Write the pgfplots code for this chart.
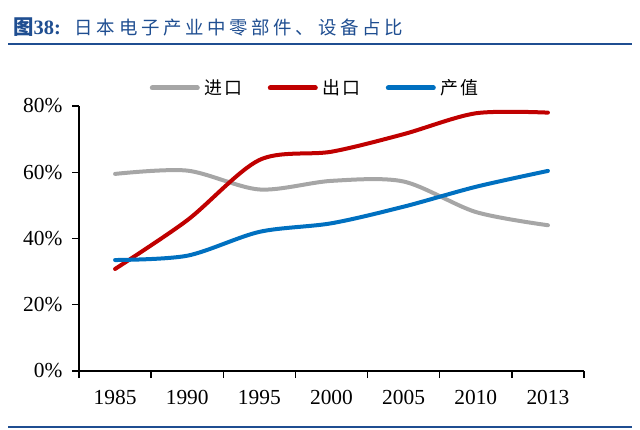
\documentclass[border=0pt]{standalone}
\usepackage{pgfplots}
\pgfplotsset{compat=1.18}
\usepackage{fontspec}
\setmainfont{Liberation Serif}
\newfontfamily\cjk{Noto Sans CJK SC}
\newfontfamily\cjktitle[LetterSpace=20]{Noto Sans CJK SC}
\newfontfamily\cjkleg[LetterSpace=12]{Noto Sans CJK SC}
\definecolor{cgray}{RGB}{166,166,166}
\definecolor{cred}{RGB}{192,0,0}
\definecolor{cblue}{RGB}{0,112,192}
\definecolor{ctitle}{RGB}{31,78,145}
\begin{document}
\begin{tikzpicture}
\useasboundingbox (0,0) rectangle (640bp,430bp);
\draw[ctitle, line width=2bp] (8bp,386bp) -- (632bp,386bp);
\draw[ctitle, line width=2bp] (8bp,2.5bp) -- (632bp,2.5bp);
\node[anchor=west, inner sep=0pt, text=ctitle] at (13bp,403bp)
  {\fontsize{20.5}{24}\selectfont{\cjk\bfseries 图}{\bfseries 38:}\hspace{14bp}{\cjktitle\fontsize{18.5}{20}\selectfont 日本电子产业中零部件、设备占比}};
\begin{axis}[
  at={(79bp,59bp)}, anchor=south west,
  scale only axis, width=505bp, height=265bp,
  xmin=-0.5, xmax=6.5, ymin=0, ymax=80,
  axis x line*=bottom, axis y line*=left,
  axis line style={-, black, line width=1.3bp},
  xtick={-0.5,0.5,...,6.5},
  x tick label as interval,
  xticklabels={1985,1990,1995,2000,2005,2010,2013},
  ytick={0,20,...,80},
  yticklabel={\pgfmathprintnumber{\tick}\%},
  tick align=outside, major tick length=7bp,
  tick style={black, line width=1.3bp},
  ticklabel style={font=\fontsize{21.5}{24}\selectfont},
  xticklabel style={yshift=-9bp},
  yticklabel style={xshift=-6bp},
  /pgf/number format/assume math mode=true,
  clip=false,
  legend columns=3,
  legend cell align=left,
  legend style={draw=none, fill=none, at={(0.466,1.068)}, anchor=center,
    font=\cjkleg\fontsize{18}{20}\selectfont,
    nodes={inner sep=0pt},
    /tikz/every odd column/.append style={column sep=5bp},
    /tikz/every even column/.append style={column sep=25bp}},
  legend image code/.code={\draw[line width=5bp, line cap=round] (2.5bp,0bp) -- (47.5bp,0bp);},
  every axis plot/.append style={line width=4bp, line cap=round, smooth},
]
\addplot[cgray] coordinates {(0,59.5)(1,60.5)(2,54.8)(3,57.4)(4,57.2)(5,48)(6,44)};
\addlegendentry{进口}
\addplot[cred] coordinates {(0,30.8)(1,45.5)(2,63.7)(3,66.2)(4,71.5)(5,77.8)(6,78)};
\addlegendentry{出口}
\addplot[cblue] coordinates {(0,33.5)(1,34.8)(2,42)(3,44.6)(4,49.6)(5,55.6)(6,60.4)};
\addlegendentry{产值}
\end{axis}
\end{tikzpicture}
\end{document}
